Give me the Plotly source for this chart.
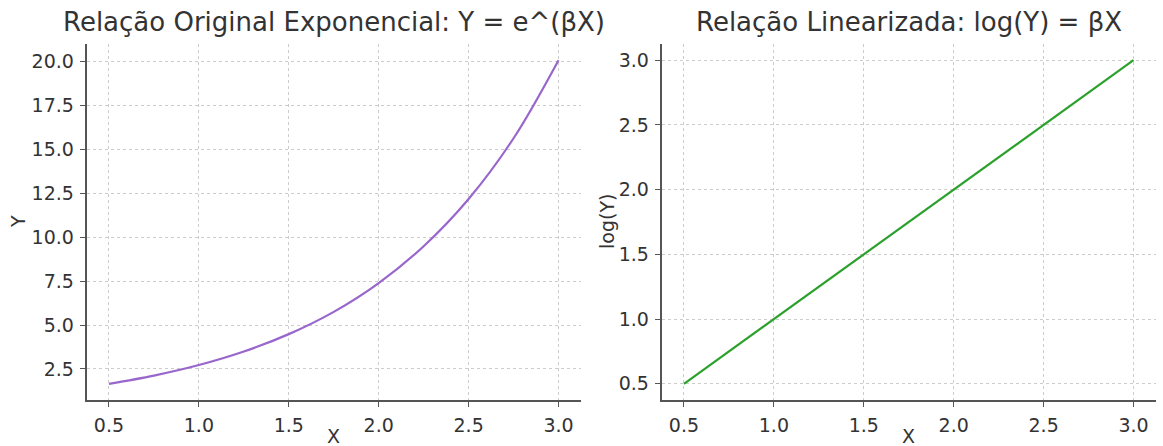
import plotly.graph_objects as go

# Data
x_vals = [0.5, 0.75, 1.0, 1.25, 1.5, 1.75, 2.0, 2.25, 2.5, 2.75, 3.0]
y_exp = [1.65, 2.12, 2.72, 3.49, 4.48, 5.75, 7.39, 9.49, 12.18, 15.64, 20.09]
y_log = [0.5, 0.75, 1.0, 1.25, 1.5, 1.75, 2.0, 2.25, 2.5, 2.75, 3.0]

x_ticks = [0.5, 1.0, 1.5, 2.0, 2.5, 3.0]
y1_ticks = [2.5, 5.0, 7.5, 10.0, 12.5, 15.0, 17.5, 20.0]
y2_ticks = [0.5, 1.0, 1.5, 2.0, 2.5, 3.0]

title_left = "Relação Original Exponencial: Y = e^(βX)"
title_right = "Relação Linearizada: log(Y) = βX"

FONT = "DejaVu Sans"
TXT = "#333333"
SPINE = "#555555"
GRID = "#cccccc"

W, H = 1163, 446
fig = go.Figure()

fig.add_trace(go.Scatter(x=x_vals, y=y_exp, mode="lines", line=dict(color="#9966cc", width=2.2, shape="spline"),
                         xaxis="x", yaxis="y", showlegend=False, hoverinfo="skip"))
fig.add_trace(go.Scatter(x=x_vals, y=y_log, mode="lines", line=dict(color="#2ca02c", width=2.2),
                         xaxis="x2", yaxis="y2", showlegend=False, hoverinfo="skip"))

ydom = [1 - 400 / H, 1 - 44 / H]
x1dom = [86.5 / W, 581 / W]
x2dom = [661.5 / W, 1156 / W]

common = dict(
    showline=True, linecolor=SPINE, linewidth=1.6,
    ticks="outside", ticklen=5, tickwidth=1.3, tickcolor=SPINE,
    showgrid=True, gridcolor=GRID, griddash="3px,3px", gridwidth=0.9,
    zeroline=False, mirror=False,
    tickfont=dict(family=FONT, size=19, color=TXT),
    tickformat=".1f", automargin=False, ticklabelstandoff=2,
)

fig.update_layout(
    width=W, height=H,
    margin=dict(l=0, r=0, t=0, b=0),
    paper_bgcolor="white", plot_bgcolor="white",
    xaxis=dict(domain=x1dom, anchor="y", range=[0.375, 3.125], tickvals=x_ticks, **common),
    yaxis=dict(domain=ydom, anchor="x", range=[0.727, 21.01], tickvals=y1_ticks, **common),
    xaxis2=dict(domain=x2dom, anchor="y2", range=[0.375, 3.125], tickvals=x_ticks, **common),
    yaxis2=dict(domain=ydom, anchor="x2", range=[0.375, 3.125], tickvals=y2_ticks, **common),
    showlegend=False,
)

ann = []
tfont = dict(family=FONT, size=26, color=TXT)
lfont = dict(family=FONT, size=19, color=TXT)
ann.append(dict(text=title_left, x=(x1dom[0] + x1dom[1]) / 2, y=1 - 22 / H, xref="paper", yref="paper",
                showarrow=False, font=tfont, xanchor="center", yanchor="middle"))
ann.append(dict(text=title_right, x=(x2dom[0] + x2dom[1]) / 2, y=1 - 22 / H, xref="paper", yref="paper",
                showarrow=False, font=tfont, xanchor="center", yanchor="middle"))
ann.append(dict(text="X", x=(x1dom[0] + x1dom[1]) / 2, y=1 - 436 / H, xref="paper", yref="paper",
                showarrow=False, font=lfont, xanchor="center", yanchor="middle"))
ann.append(dict(text="X", x=(x2dom[0] + x2dom[1]) / 2, y=1 - 436 / H, xref="paper", yref="paper",
                showarrow=False, font=lfont, xanchor="center", yanchor="middle"))
ann.append(dict(text="Y", x=18 / W, y=(ydom[0] + ydom[1]) / 2, xref="paper", yref="paper",
                showarrow=False, font=lfont, textangle=-90, xanchor="center", yanchor="middle"))
ann.append(dict(text="log(Y)", x=607 / W, y=(ydom[0] + ydom[1]) / 2, xref="paper", yref="paper",
                showarrow=False, font=lfont, textangle=-90, xanchor="center", yanchor="middle"))
fig.update_layout(annotations=ann)

fig.write_html("out.html", config={"displayModeBar": False},
               post_script="document.body.style.margin='0';document.body.style.overflow='hidden';")
